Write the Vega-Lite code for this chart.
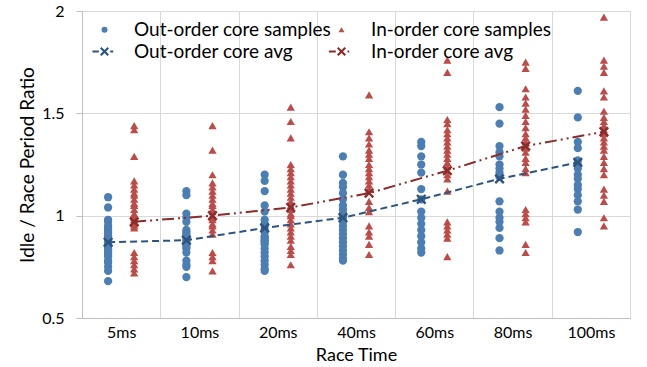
{
  "$schema": "https://vega.github.io/schema/vega-lite/v6.json",
  "autosize": {"type": "none"},
  "padding": {"left": 82, "top": 11, "right": 17, "bottom": 49},
  "width": 548,
  "height": 307,
  "background": "white",
  "config": {
    "font": "Lato",
    "view": {"stroke": "#d9d9d9"},
    "axis": {"labelFont": "Lato", "titleFont": "Lato", "labelColor": "#000000", "titleColor": "#000000", "titleFontWeight": "normal", "gridColor": "#d9d9d9", "domainColor": "#bfbfbf", "tickColor": "#bfbfbf"}
  },
  "datasets": {
    "samples": [
      {"t":"5ms","c":"out","s":"Out-order core samples","v":1.09},{"t":"5ms","c":"out","s":"Out-order core samples","v":1.04},{"t":"5ms","c":"out","s":"Out-order core samples","v":0.98},{"t":"5ms","c":"out","s":"Out-order core samples","v":0.97},{"t":"5ms","c":"out","s":"Out-order core samples","v":0.95},{"t":"5ms","c":"out","s":"Out-order core samples","v":0.94},{"t":"5ms","c":"out","s":"Out-order core samples","v":0.93},{"t":"5ms","c":"out","s":"Out-order core samples","v":0.92},{"t":"5ms","c":"out","s":"Out-order core samples","v":0.91},{"t":"5ms","c":"out","s":"Out-order core samples","v":0.90},{"t":"5ms","c":"out","s":"Out-order core samples","v":0.89},{"t":"5ms","c":"out","s":"Out-order core samples","v":0.88},{"t":"5ms","c":"out","s":"Out-order core samples","v":0.87},{"t":"5ms","c":"out","s":"Out-order core samples","v":0.86},{"t":"5ms","c":"out","s":"Out-order core samples","v":0.85},{"t":"5ms","c":"out","s":"Out-order core samples","v":0.84},{"t":"5ms","c":"out","s":"Out-order core samples","v":0.83},{"t":"5ms","c":"out","s":"Out-order core samples","v":0.82},{"t":"5ms","c":"out","s":"Out-order core samples","v":0.81},{"t":"5ms","c":"out","s":"Out-order core samples","v":0.80},{"t":"5ms","c":"out","s":"Out-order core samples","v":0.78},{"t":"5ms","c":"out","s":"Out-order core samples","v":0.77},{"t":"5ms","c":"out","s":"Out-order core samples","v":0.75},{"t":"5ms","c":"out","s":"Out-order core samples","v":0.73},{"t":"5ms","c":"out","s":"Out-order core samples","v":0.68},
      {"t":"5ms","c":"in","s":"In-order core samples","v":1.44},{"t":"5ms","c":"in","s":"In-order core samples","v":1.42},{"t":"5ms","c":"in","s":"In-order core samples","v":1.29},{"t":"5ms","c":"in","s":"In-order core samples","v":1.17},{"t":"5ms","c":"in","s":"In-order core samples","v":1.15},{"t":"5ms","c":"in","s":"In-order core samples","v":1.13},{"t":"5ms","c":"in","s":"In-order core samples","v":1.11},{"t":"5ms","c":"in","s":"In-order core samples","v":1.10},{"t":"5ms","c":"in","s":"In-order core samples","v":1.08},{"t":"5ms","c":"in","s":"In-order core samples","v":1.06},{"t":"5ms","c":"in","s":"In-order core samples","v":1.05},{"t":"5ms","c":"in","s":"In-order core samples","v":1.03},{"t":"5ms","c":"in","s":"In-order core samples","v":1.01},{"t":"5ms","c":"in","s":"In-order core samples","v":1.00},{"t":"5ms","c":"in","s":"In-order core samples","v":0.99},{"t":"5ms","c":"in","s":"In-order core samples","v":0.98},{"t":"5ms","c":"in","s":"In-order core samples","v":0.97},{"t":"5ms","c":"in","s":"In-order core samples","v":0.96},{"t":"5ms","c":"in","s":"In-order core samples","v":0.95},{"t":"5ms","c":"in","s":"In-order core samples","v":0.94},{"t":"5ms","c":"in","s":"In-order core samples","v":0.82},{"t":"5ms","c":"in","s":"In-order core samples","v":0.80},{"t":"5ms","c":"in","s":"In-order core samples","v":0.78},{"t":"5ms","c":"in","s":"In-order core samples","v":0.76},{"t":"5ms","c":"in","s":"In-order core samples","v":0.74},{"t":"5ms","c":"in","s":"In-order core samples","v":0.72},
      {"t":"10ms","c":"out","s":"Out-order core samples","v":1.12},{"t":"10ms","c":"out","s":"Out-order core samples","v":1.10},{"t":"10ms","c":"out","s":"Out-order core samples","v":1.01},{"t":"10ms","c":"out","s":"Out-order core samples","v":0.99},{"t":"10ms","c":"out","s":"Out-order core samples","v":0.97},{"t":"10ms","c":"out","s":"Out-order core samples","v":0.93},{"t":"10ms","c":"out","s":"Out-order core samples","v":0.92},{"t":"10ms","c":"out","s":"Out-order core samples","v":0.91},{"t":"10ms","c":"out","s":"Out-order core samples","v":0.90},{"t":"10ms","c":"out","s":"Out-order core samples","v":0.89},{"t":"10ms","c":"out","s":"Out-order core samples","v":0.88},{"t":"10ms","c":"out","s":"Out-order core samples","v":0.87},{"t":"10ms","c":"out","s":"Out-order core samples","v":0.86},{"t":"10ms","c":"out","s":"Out-order core samples","v":0.85},{"t":"10ms","c":"out","s":"Out-order core samples","v":0.84},{"t":"10ms","c":"out","s":"Out-order core samples","v":0.82},{"t":"10ms","c":"out","s":"Out-order core samples","v":0.78},{"t":"10ms","c":"out","s":"Out-order core samples","v":0.76},{"t":"10ms","c":"out","s":"Out-order core samples","v":0.75},{"t":"10ms","c":"out","s":"Out-order core samples","v":0.70},
      {"t":"10ms","c":"in","s":"In-order core samples","v":1.44},{"t":"10ms","c":"in","s":"In-order core samples","v":1.32},{"t":"10ms","c":"in","s":"In-order core samples","v":1.20},{"t":"10ms","c":"in","s":"In-order core samples","v":1.16},{"t":"10ms","c":"in","s":"In-order core samples","v":1.14},{"t":"10ms","c":"in","s":"In-order core samples","v":1.12},{"t":"10ms","c":"in","s":"In-order core samples","v":1.10},{"t":"10ms","c":"in","s":"In-order core samples","v":1.08},{"t":"10ms","c":"in","s":"In-order core samples","v":1.06},{"t":"10ms","c":"in","s":"In-order core samples","v":1.05},{"t":"10ms","c":"in","s":"In-order core samples","v":1.03},{"t":"10ms","c":"in","s":"In-order core samples","v":1.02},{"t":"10ms","c":"in","s":"In-order core samples","v":1.00},{"t":"10ms","c":"in","s":"In-order core samples","v":0.99},{"t":"10ms","c":"in","s":"In-order core samples","v":0.98},{"t":"10ms","c":"in","s":"In-order core samples","v":0.96},{"t":"10ms","c":"in","s":"In-order core samples","v":0.95},{"t":"10ms","c":"in","s":"In-order core samples","v":0.93},{"t":"10ms","c":"in","s":"In-order core samples","v":0.91},{"t":"10ms","c":"in","s":"In-order core samples","v":0.82},{"t":"10ms","c":"in","s":"In-order core samples","v":0.80},{"t":"10ms","c":"in","s":"In-order core samples","v":0.78},{"t":"10ms","c":"in","s":"In-order core samples","v":0.73},
      {"t":"20ms","c":"out","s":"Out-order core samples","v":1.20},{"t":"20ms","c":"out","s":"Out-order core samples","v":1.17},{"t":"20ms","c":"out","s":"Out-order core samples","v":1.12},{"t":"20ms","c":"out","s":"Out-order core samples","v":1.05},{"t":"20ms","c":"out","s":"Out-order core samples","v":1.02},{"t":"20ms","c":"out","s":"Out-order core samples","v":0.98},{"t":"20ms","c":"out","s":"Out-order core samples","v":0.96},{"t":"20ms","c":"out","s":"Out-order core samples","v":0.95},{"t":"20ms","c":"out","s":"Out-order core samples","v":0.93},{"t":"20ms","c":"out","s":"Out-order core samples","v":0.92},{"t":"20ms","c":"out","s":"Out-order core samples","v":0.90},{"t":"20ms","c":"out","s":"Out-order core samples","v":0.89},{"t":"20ms","c":"out","s":"Out-order core samples","v":0.88},{"t":"20ms","c":"out","s":"Out-order core samples","v":0.87},{"t":"20ms","c":"out","s":"Out-order core samples","v":0.86},{"t":"20ms","c":"out","s":"Out-order core samples","v":0.84},{"t":"20ms","c":"out","s":"Out-order core samples","v":0.82},{"t":"20ms","c":"out","s":"Out-order core samples","v":0.80},{"t":"20ms","c":"out","s":"Out-order core samples","v":0.78},{"t":"20ms","c":"out","s":"Out-order core samples","v":0.76},{"t":"20ms","c":"out","s":"Out-order core samples","v":0.74},{"t":"20ms","c":"out","s":"Out-order core samples","v":0.73},
      {"t":"20ms","c":"in","s":"In-order core samples","v":1.53},{"t":"20ms","c":"in","s":"In-order core samples","v":1.46},{"t":"20ms","c":"in","s":"In-order core samples","v":1.38},{"t":"20ms","c":"in","s":"In-order core samples","v":1.25},{"t":"20ms","c":"in","s":"In-order core samples","v":1.23},{"t":"20ms","c":"in","s":"In-order core samples","v":1.21},{"t":"20ms","c":"in","s":"In-order core samples","v":1.19},{"t":"20ms","c":"in","s":"In-order core samples","v":1.17},{"t":"20ms","c":"in","s":"In-order core samples","v":1.15},{"t":"20ms","c":"in","s":"In-order core samples","v":1.13},{"t":"20ms","c":"in","s":"In-order core samples","v":1.11},{"t":"20ms","c":"in","s":"In-order core samples","v":1.09},{"t":"20ms","c":"in","s":"In-order core samples","v":1.07},{"t":"20ms","c":"in","s":"In-order core samples","v":1.05},{"t":"20ms","c":"in","s":"In-order core samples","v":1.03},{"t":"20ms","c":"in","s":"In-order core samples","v":1.01},{"t":"20ms","c":"in","s":"In-order core samples","v":1.00},{"t":"20ms","c":"in","s":"In-order core samples","v":0.98},{"t":"20ms","c":"in","s":"In-order core samples","v":0.96},{"t":"20ms","c":"in","s":"In-order core samples","v":0.94},{"t":"20ms","c":"in","s":"In-order core samples","v":0.92},{"t":"20ms","c":"in","s":"In-order core samples","v":0.90},{"t":"20ms","c":"in","s":"In-order core samples","v":0.88},{"t":"20ms","c":"in","s":"In-order core samples","v":0.85},{"t":"20ms","c":"in","s":"In-order core samples","v":0.83},{"t":"20ms","c":"in","s":"In-order core samples","v":0.81},{"t":"20ms","c":"in","s":"In-order core samples","v":0.76},
      {"t":"40ms","c":"out","s":"Out-order core samples","v":1.29},{"t":"40ms","c":"out","s":"Out-order core samples","v":1.20},{"t":"40ms","c":"out","s":"Out-order core samples","v":1.16},{"t":"40ms","c":"out","s":"Out-order core samples","v":1.14},{"t":"40ms","c":"out","s":"Out-order core samples","v":1.11},{"t":"40ms","c":"out","s":"Out-order core samples","v":1.08},{"t":"40ms","c":"out","s":"Out-order core samples","v":1.05},{"t":"40ms","c":"out","s":"Out-order core samples","v":1.03},{"t":"40ms","c":"out","s":"Out-order core samples","v":1.01},{"t":"40ms","c":"out","s":"Out-order core samples","v":1.00},{"t":"40ms","c":"out","s":"Out-order core samples","v":0.99},{"t":"40ms","c":"out","s":"Out-order core samples","v":0.97},{"t":"40ms","c":"out","s":"Out-order core samples","v":0.95},{"t":"40ms","c":"out","s":"Out-order core samples","v":0.93},{"t":"40ms","c":"out","s":"Out-order core samples","v":0.91},{"t":"40ms","c":"out","s":"Out-order core samples","v":0.89},{"t":"40ms","c":"out","s":"Out-order core samples","v":0.87},{"t":"40ms","c":"out","s":"Out-order core samples","v":0.85},{"t":"40ms","c":"out","s":"Out-order core samples","v":0.83},{"t":"40ms","c":"out","s":"Out-order core samples","v":0.81},{"t":"40ms","c":"out","s":"Out-order core samples","v":0.79},{"t":"40ms","c":"out","s":"Out-order core samples","v":0.78},
      {"t":"40ms","c":"in","s":"In-order core samples","v":1.59},{"t":"40ms","c":"in","s":"In-order core samples","v":1.41},{"t":"40ms","c":"in","s":"In-order core samples","v":1.38},{"t":"40ms","c":"in","s":"In-order core samples","v":1.35},{"t":"40ms","c":"in","s":"In-order core samples","v":1.32},{"t":"40ms","c":"in","s":"In-order core samples","v":1.30},{"t":"40ms","c":"in","s":"In-order core samples","v":1.28},{"t":"40ms","c":"in","s":"In-order core samples","v":1.25},{"t":"40ms","c":"in","s":"In-order core samples","v":1.23},{"t":"40ms","c":"in","s":"In-order core samples","v":1.21},{"t":"40ms","c":"in","s":"In-order core samples","v":1.19},{"t":"40ms","c":"in","s":"In-order core samples","v":1.17},{"t":"40ms","c":"in","s":"In-order core samples","v":1.15},{"t":"40ms","c":"in","s":"In-order core samples","v":1.13},{"t":"40ms","c":"in","s":"In-order core samples","v":1.07},{"t":"40ms","c":"in","s":"In-order core samples","v":1.04},{"t":"40ms","c":"in","s":"In-order core samples","v":1.02},{"t":"40ms","c":"in","s":"In-order core samples","v":0.95},{"t":"40ms","c":"in","s":"In-order core samples","v":0.92},{"t":"40ms","c":"in","s":"In-order core samples","v":0.90},{"t":"40ms","c":"in","s":"In-order core samples","v":0.86},{"t":"40ms","c":"in","s":"In-order core samples","v":0.81},
      {"t":"60ms","c":"out","s":"Out-order core samples","v":1.36},{"t":"60ms","c":"out","s":"Out-order core samples","v":1.34},{"t":"60ms","c":"out","s":"Out-order core samples","v":1.29},{"t":"60ms","c":"out","s":"Out-order core samples","v":1.25},{"t":"60ms","c":"out","s":"Out-order core samples","v":1.21},{"t":"60ms","c":"out","s":"Out-order core samples","v":1.13},{"t":"60ms","c":"out","s":"Out-order core samples","v":1.08},{"t":"60ms","c":"out","s":"Out-order core samples","v":1.02},{"t":"60ms","c":"out","s":"Out-order core samples","v":0.99},{"t":"60ms","c":"out","s":"Out-order core samples","v":0.96},{"t":"60ms","c":"out","s":"Out-order core samples","v":0.93},{"t":"60ms","c":"out","s":"Out-order core samples","v":0.90},{"t":"60ms","c":"out","s":"Out-order core samples","v":0.87},{"t":"60ms","c":"out","s":"Out-order core samples","v":0.84},{"t":"60ms","c":"out","s":"Out-order core samples","v":0.82},
      {"t":"60ms","c":"in","s":"In-order core samples","v":1.76},{"t":"60ms","c":"in","s":"In-order core samples","v":1.70},{"t":"60ms","c":"in","s":"In-order core samples","v":1.47},{"t":"60ms","c":"in","s":"In-order core samples","v":1.45},{"t":"60ms","c":"in","s":"In-order core samples","v":1.42},{"t":"60ms","c":"in","s":"In-order core samples","v":1.40},{"t":"60ms","c":"in","s":"In-order core samples","v":1.38},{"t":"60ms","c":"in","s":"In-order core samples","v":1.36},{"t":"60ms","c":"in","s":"In-order core samples","v":1.34},{"t":"60ms","c":"in","s":"In-order core samples","v":1.32},{"t":"60ms","c":"in","s":"In-order core samples","v":1.30},{"t":"60ms","c":"in","s":"In-order core samples","v":1.28},{"t":"60ms","c":"in","s":"In-order core samples","v":1.26},{"t":"60ms","c":"in","s":"In-order core samples","v":1.24},{"t":"60ms","c":"in","s":"In-order core samples","v":1.22},{"t":"60ms","c":"in","s":"In-order core samples","v":1.20},{"t":"60ms","c":"in","s":"In-order core samples","v":1.18},{"t":"60ms","c":"in","s":"In-order core samples","v":1.12},{"t":"60ms","c":"in","s":"In-order core samples","v":0.97},{"t":"60ms","c":"in","s":"In-order core samples","v":0.95},{"t":"60ms","c":"in","s":"In-order core samples","v":0.93},{"t":"60ms","c":"in","s":"In-order core samples","v":0.91},{"t":"60ms","c":"in","s":"In-order core samples","v":0.89},{"t":"60ms","c":"in","s":"In-order core samples","v":0.80},
      {"t":"80ms","c":"out","s":"Out-order core samples","v":1.53},{"t":"80ms","c":"out","s":"Out-order core samples","v":1.45},{"t":"80ms","c":"out","s":"Out-order core samples","v":1.34},{"t":"80ms","c":"out","s":"Out-order core samples","v":1.31},{"t":"80ms","c":"out","s":"Out-order core samples","v":1.29},{"t":"80ms","c":"out","s":"Out-order core samples","v":1.25},{"t":"80ms","c":"out","s":"Out-order core samples","v":1.23},{"t":"80ms","c":"out","s":"Out-order core samples","v":1.21},{"t":"80ms","c":"out","s":"Out-order core samples","v":1.19},{"t":"80ms","c":"out","s":"Out-order core samples","v":1.07},{"t":"80ms","c":"out","s":"Out-order core samples","v":1.02},{"t":"80ms","c":"out","s":"Out-order core samples","v":0.99},{"t":"80ms","c":"out","s":"Out-order core samples","v":0.97},{"t":"80ms","c":"out","s":"Out-order core samples","v":0.94},{"t":"80ms","c":"out","s":"Out-order core samples","v":0.89},{"t":"80ms","c":"out","s":"Out-order core samples","v":0.83},
      {"t":"80ms","c":"in","s":"In-order core samples","v":1.75},{"t":"80ms","c":"in","s":"In-order core samples","v":1.72},{"t":"80ms","c":"in","s":"In-order core samples","v":1.62},{"t":"80ms","c":"in","s":"In-order core samples","v":1.58},{"t":"80ms","c":"in","s":"In-order core samples","v":1.55},{"t":"80ms","c":"in","s":"In-order core samples","v":1.52},{"t":"80ms","c":"in","s":"In-order core samples","v":1.49},{"t":"80ms","c":"in","s":"In-order core samples","v":1.46},{"t":"80ms","c":"in","s":"In-order core samples","v":1.43},{"t":"80ms","c":"in","s":"In-order core samples","v":1.40},{"t":"80ms","c":"in","s":"In-order core samples","v":1.38},{"t":"80ms","c":"in","s":"In-order core samples","v":1.36},{"t":"80ms","c":"in","s":"In-order core samples","v":1.33},{"t":"80ms","c":"in","s":"In-order core samples","v":1.31},{"t":"80ms","c":"in","s":"In-order core samples","v":1.28},{"t":"80ms","c":"in","s":"In-order core samples","v":1.26},{"t":"80ms","c":"in","s":"In-order core samples","v":1.23},{"t":"80ms","c":"in","s":"In-order core samples","v":1.21},{"t":"80ms","c":"in","s":"In-order core samples","v":1.03},{"t":"80ms","c":"in","s":"In-order core samples","v":1.01},{"t":"80ms","c":"in","s":"In-order core samples","v":0.99},{"t":"80ms","c":"in","s":"In-order core samples","v":0.97},{"t":"80ms","c":"in","s":"In-order core samples","v":0.86},{"t":"80ms","c":"in","s":"In-order core samples","v":0.82},
      {"t":"100ms","c":"out","s":"Out-order core samples","v":1.61},{"t":"100ms","c":"out","s":"Out-order core samples","v":1.48},{"t":"100ms","c":"out","s":"Out-order core samples","v":1.36},{"t":"100ms","c":"out","s":"Out-order core samples","v":1.33},{"t":"100ms","c":"out","s":"Out-order core samples","v":1.27},{"t":"100ms","c":"out","s":"Out-order core samples","v":1.25},{"t":"100ms","c":"out","s":"Out-order core samples","v":1.23},{"t":"100ms","c":"out","s":"Out-order core samples","v":1.20},{"t":"100ms","c":"out","s":"Out-order core samples","v":1.18},{"t":"100ms","c":"out","s":"Out-order core samples","v":1.15},{"t":"100ms","c":"out","s":"Out-order core samples","v":1.13},{"t":"100ms","c":"out","s":"Out-order core samples","v":1.10},{"t":"100ms","c":"out","s":"Out-order core samples","v":1.07},{"t":"100ms","c":"out","s":"Out-order core samples","v":1.03},{"t":"100ms","c":"out","s":"Out-order core samples","v":0.92},
      {"t":"100ms","c":"in","s":"In-order core samples","v":1.97},{"t":"100ms","c":"in","s":"In-order core samples","v":1.76},{"t":"100ms","c":"in","s":"In-order core samples","v":1.73},{"t":"100ms","c":"in","s":"In-order core samples","v":1.70},{"t":"100ms","c":"in","s":"In-order core samples","v":1.61},{"t":"100ms","c":"in","s":"In-order core samples","v":1.58},{"t":"100ms","c":"in","s":"In-order core samples","v":1.51},{"t":"100ms","c":"in","s":"In-order core samples","v":1.48},{"t":"100ms","c":"in","s":"In-order core samples","v":1.46},{"t":"100ms","c":"in","s":"In-order core samples","v":1.44},{"t":"100ms","c":"in","s":"In-order core samples","v":1.42},{"t":"100ms","c":"in","s":"In-order core samples","v":1.40},{"t":"100ms","c":"in","s":"In-order core samples","v":1.38},{"t":"100ms","c":"in","s":"In-order core samples","v":1.36},{"t":"100ms","c":"in","s":"In-order core samples","v":1.34},{"t":"100ms","c":"in","s":"In-order core samples","v":1.32},{"t":"100ms","c":"in","s":"In-order core samples","v":1.29},{"t":"100ms","c":"in","s":"In-order core samples","v":1.26},{"t":"100ms","c":"in","s":"In-order core samples","v":1.23},{"t":"100ms","c":"in","s":"In-order core samples","v":1.20},{"t":"100ms","c":"in","s":"In-order core samples","v":1.13},{"t":"100ms","c":"in","s":"In-order core samples","v":1.10},{"t":"100ms","c":"in","s":"In-order core samples","v":1.07},{"t":"100ms","c":"in","s":"In-order core samples","v":0.99},{"t":"100ms","c":"in","s":"In-order core samples","v":0.95}
    ],
    "avgs": [
      {"t":"5ms","c":"out","s":"Out-order core avg","v":0.87},
      {"t":"10ms","c":"out","s":"Out-order core avg","v":0.88},
      {"t":"20ms","c":"out","s":"Out-order core avg","v":0.94},
      {"t":"40ms","c":"out","s":"Out-order core avg","v":0.99},
      {"t":"60ms","c":"out","s":"Out-order core avg","v":1.08},
      {"t":"80ms","c":"out","s":"Out-order core avg","v":1.18},
      {"t":"100ms","c":"out","s":"Out-order core avg","v":1.26},
      {"t":"5ms","c":"in","s":"In-order core avg","v":0.97},
      {"t":"10ms","c":"in","s":"In-order core avg","v":1.00},
      {"t":"20ms","c":"in","s":"In-order core avg","v":1.04},
      {"t":"40ms","c":"in","s":"In-order core avg","v":1.11},
      {"t":"60ms","c":"in","s":"In-order core avg","v":1.22},
      {"t":"80ms","c":"in","s":"In-order core avg","v":1.34},
      {"t":"100ms","c":"in","s":"In-order core avg","v":1.41}
    ]
  },
  "encoding": {
    "x": {"field": "t", "type": "nominal", "sort": ["5ms","10ms","20ms","40ms","60ms","80ms","100ms"],
      "scale": {"type": "band", "paddingInner": 0, "paddingOuter": 0},
      "axis": {"title": "Race Time", "titleFontSize": 18, "titlePadding": 6, "labelFontSize": 16, "labelAngle": 0, "labelPadding": 6, "ticks": false, "tickBand": "extent", "grid": true, "domain": true}},
    "xOffset": {"field": "c", "type": "nominal", "scale": {"domain": ["out","in"], "paddingInner": 0, "paddingOuter": 1.4375}},
    "y": {"field": "v", "type": "quantitative",
      "scale": {"domain": [0.5, 2], "nice": false, "zero": false},
      "axis": {"title": "Idle / Race Period Ratio", "titleFontSize": 19, "titlePadding": 4, "labelFontSize": 16, "values": [0.5, 1, 1.5, 2], "format": "~g", "tickSize": 6, "labelPadding": 12, "grid": true, "domain": true}}
  },
  "layer": [
    {
      "data": {"name": "samples"},
      "mark": {"type": "point", "filled": true, "opacity": 1, "size": 68, "strokeWidth": 0},
      "encoding": {
        "color": {"field": "s", "type": "nominal",
          "scale": {"domain": ["Out-order core samples","Out-order core avg","In-order core samples","In-order core avg"], "range": ["#4a7eb4","#2b5580","#be4b48","#8b2c2a"]},
          "legend": {"orient": "none", "legendX": 13, "legendY": 9, "columns": 2, "title": null, "labelFontSize": 19, "labelFont": "Lato", "labelColor": "#000000", "labelLimit": 400, "symbolSize": 36, "labelOffset": 20, "columnPadding": -25, "rowPadding": 2, "symbolStrokeWidth": 0}},
        "shape": {"field": "s", "type": "nominal",
          "scale": {"domain": ["Out-order core samples","Out-order core avg","In-order core samples","In-order core avg"],
            "range": ["circle",
              "M-4,-0.3H-1.9V0.3H-4Z M1.9,-0.3H2.9V0.3H1.9Z M-1.5,-1L-1,-1.5L0,-0.5L1,-1.5L1.5,-1L0.5,0L1.5,1L1,1.5L0,0.5L-1,1.5L-1.5,1L-0.5,0Z",
              "triangle-up",
              "M-4.2,-0.3H-1.9V0.3H-4.2Z M2.0,-0.3H2.6V0.3H2.0Z M-1.5,-1L-1,-1.5L0,-0.5L1,-1.5L1.5,-1L0.5,0L1.5,1L1,1.5L0,0.5L-1,1.5L-1.5,1L-0.5,0Z"]}}
      }
    },
    {
      "data": {"name": "avgs"},
      "mark": {"type": "line", "strokeWidth": 2},
      "encoding": {
        "color": {"field": "s", "type": "nominal"},
        "strokeDash": {"field": "s", "type": "nominal", "scale": {"domain": ["Out-order core avg","In-order core avg"], "range": [[7,4],[12,4,2,4,2,4]]}, "legend": null}
      }
    },
    {
      "data": {"name": "avgs"},
      "mark": {"type": "point", "filled": true, "opacity": 1, "size": 130, "strokeWidth": 0,
        "shape": "M-0.9,-0.6L-0.6,-0.9L0,-0.3L0.6,-0.9L0.9,-0.6L0.3,0L0.9,0.6L0.6,0.9L0,0.3L-0.6,0.9L-0.9,0.6L-0.3,0Z"},
      "encoding": {
        "color": {"field": "s", "type": "nominal"}
      }
    }
  ]
}
